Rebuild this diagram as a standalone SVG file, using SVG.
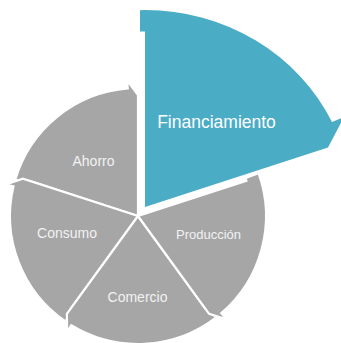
<svg xmlns="http://www.w3.org/2000/svg" xmlns:xlink="http://www.w3.org/1999/xlink" width="341" height="343" viewBox="0 0 341 343">
<style>
.seg{fill:#a6a6a6;stroke:#ffffff;stroke-width:2.2;stroke-linejoin:miter}
.hl{fill:#4bacc6;stroke:none}
.lbl{font-family:"Liberation Sans",Arial,sans-serif;fill:#f2f2f2;text-anchor:middle}
</style>
<defs>
<path id="shape" d="M0,0 L0,-114 L-2.98,-113.96 L-3.35,-127.96 A128,128 0 0 1 118.17,-49.19 L125.56,-52.26 L115.08,-37.39 Z"/>
</defs>
<rect width="341" height="343" fill="#ffffff"/>
<g id="connectors"></g>
<g id="ahorro">
<use xlink:href="#shape" href="#shape" class="seg" transform="translate(138,216) rotate(288)"/>
<text class="lbl" x="93.5" y="166" font-size="14">Ahorro</text>
</g>
<g id="consumo">
<use xlink:href="#shape" href="#shape" class="seg" transform="translate(138,216) rotate(216)"/>
<text class="lbl" x="67" y="238" font-size="14">Consumo</text>
</g>
<g id="comercio">
<use xlink:href="#shape" href="#shape" class="seg" transform="translate(138,216) rotate(144)"/>
<text class="lbl" x="137.5" y="302" font-size="14">Comercio</text>
</g>
<g id="produccion">
<use xlink:href="#shape" href="#shape" class="seg" transform="translate(138,216) rotate(72)"/>
<text class="lbl" x="208.5" y="239" font-size="13">Producción</text>
</g>
<g id="financiamiento">
<path class="hl" d="M145,207 L145,31.5 L140,31.5 L140,10.2 L145,10 A207,197 0 0 1 332,122 L344,117 L328,147.5 Z"/>
<text class="lbl" x="216.5" y="128" font-size="17.5" style="fill:#ffffff">Financiamiento</text>
</g>
</svg>
